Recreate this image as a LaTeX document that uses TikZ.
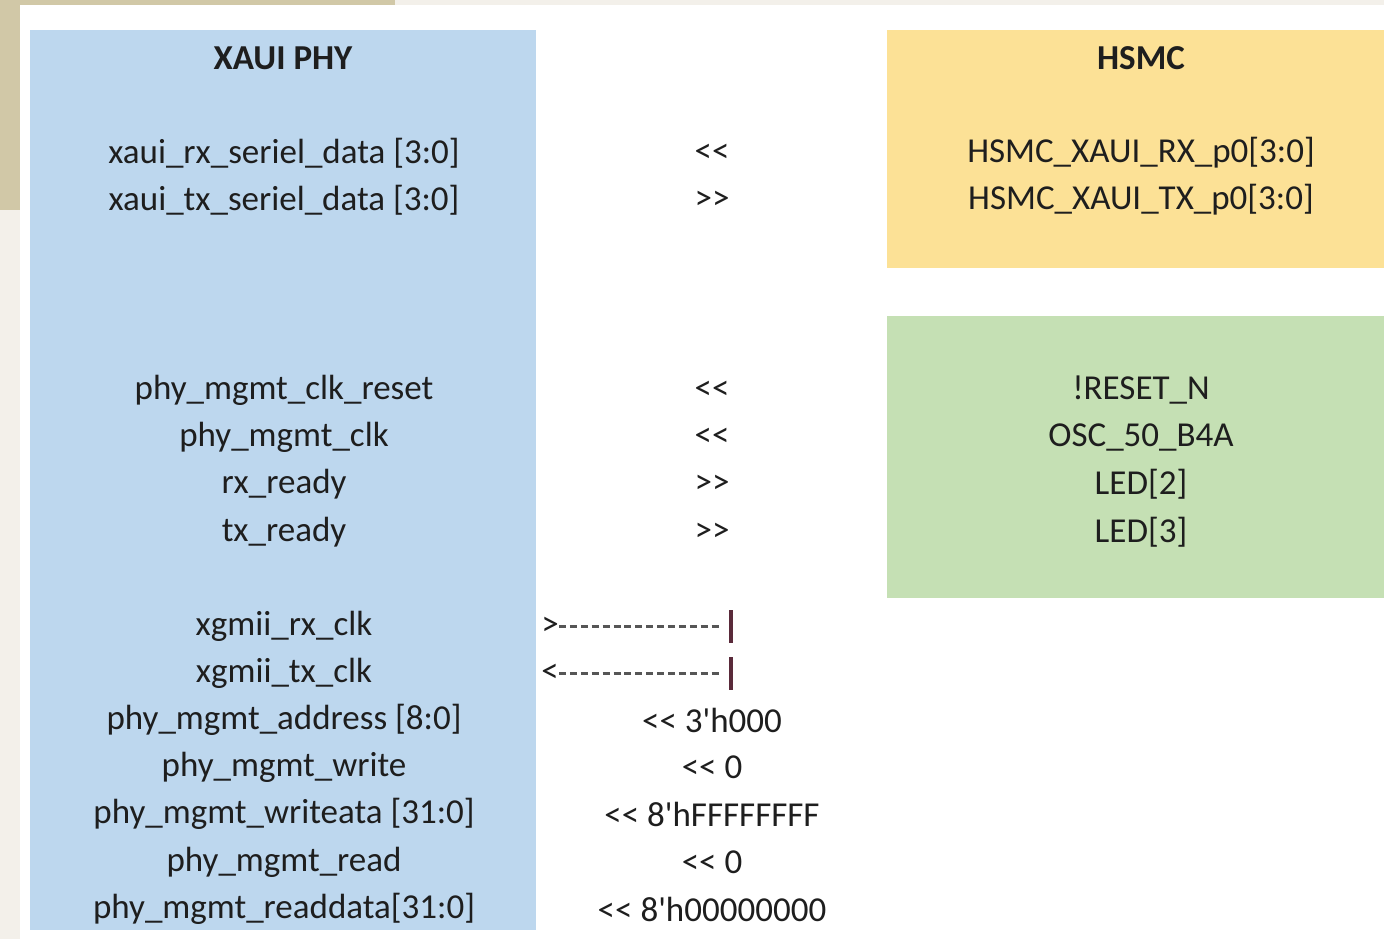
\documentclass[tikz,border=0pt]{standalone}
\usepackage{fontspec}
\setmainfont{Carlito}[Ligatures=TeXOff]
\definecolor{pagebg}{HTML}{F3F0EA}
\definecolor{beige}{HTML}{D1C8A7}
\definecolor{phyblue}{HTML}{BDD7EE}
\definecolor{hsmcyellow}{HTML}{FCE196}
\definecolor{ledgreen}{HTML}{C5E0B4}
\definecolor{txt}{HTML}{1E1E1E}
\definecolor{barred}{HTML}{5A2A3A}
\tikzset{
  sig/.style={text=txt, font=\fontsize{35}{40}\selectfont, inner sep=0pt, anchor=center},
  title/.style={sig, font=\fontsize{35}{40}\selectfont\bfseries},
  dir/.style={sig},
  dashwire/.style={draw=txt!75, line width=3pt, dash pattern=on 7pt off 3.9pt},
  bar/.style={draw=barred, line width=3.4pt}
}
\begin{document}
\begin{tikzpicture}[x=1pt,y=-1pt]
\useasboundingbox (0,0) rectangle (1384,939);
\fill[pagebg] (0,0) rectangle (1384,939);
\fill[beige] (0,0) rectangle (395,210);
\fill[white] (20,5) rectangle (1384,939);
% blocks
\fill[phyblue] (30,30) rectangle (536,930);
\fill[hsmcyellow] (887,30) rectangle (1384,268);
\fill[ledgreen] (887,316) rectangle (1384,598);
% XAUI PHY column
\node[title] (phy) at (283,58) {XAUI PHY};
\node[sig] (p1) at (284,153) {xaui\_rx\_seriel\_data [3:0]};
\node[sig] (p2) at (284,200) {xaui\_tx\_seriel\_data [3:0]};
\node[sig] (p3) at (284,390) {phy\_mgmt\_clk\_reset};
\node[sig] (p4) at (284,437) {phy\_mgmt\_clk};
\node[sig] (p5) at (284,484) {rx\_ready};
\node[sig] (p6) at (284,532) {tx\_ready};
\node[sig] (p7) at (284,626) {xgmii\_rx\_clk};
\node[sig] (p8) at (284,673) {xgmii\_tx\_clk};
\node[sig] (p9) at (284,720) {phy\_mgmt\_address [8:0]};
\node[sig] (p10) at (284,767) {phy\_mgmt\_write};
\node[sig] (p11) at (284,814) {phy\_mgmt\_writeata [31:0]};
\node[sig] (p12) at (284,862) {phy\_mgmt\_read};
\node[sig] (p13) at (284,909) {phy\_mgmt\_readdata[31:0]};
% direction column
\node[dir] (d1) at (712,153) {<<};
\node[dir] (d2) at (712,200) {>>};
\node[dir] (d3) at (712,390) {<<};
\node[dir] (d4) at (712,437) {<<};
\node[dir] (d5) at (712,484) {>>};
\node[dir] (d6) at (712,532) {>>};
\node[dir] (d9) at (712,720) {<< 3'h000};
\node[dir] (d10) at (712,767) {<< 0};
\node[dir] (d11) at (712,814) {<< 8'hFFFFFFFF};
\node[dir] (d12) at (712,862) {<< 0};
\node[dir] (d13) at (712,909) {<< 8'h00000000};
% loopback wires
\node[dir, anchor=east] (g1) at (559,626) {>};
\node[dir, anchor=east] (g2) at (559,673) {<};
\coordinate (e1) at (731,626);
\coordinate (e2) at (731,673);
\draw[dashwire] (g1.east) -- ([xshift=-9pt]e1);
\draw[dashwire] (g2.east) -- ([xshift=-9pt]e2);
\draw[bar] ([yshift=-16.5pt]e1) -- ([yshift=16.5pt]e1);
\draw[bar] ([yshift=-16.5pt]e2) -- ([yshift=16.5pt]e2);
% HSMC column
\node[title] (hsmc) at (1141,58) {HSMC};
\node[sig] (h1) at (1141,153) {HSMC\_XAUI\_RX\_p0[3:0]};
\node[sig] (h2) at (1141,200) {HSMC\_XAUI\_TX\_p0[3:0]};
\node[sig] (h3) at (1141,390) {!RESET\_N};
\node[sig] (h4) at (1141,437) {OSC\_50\_B4A};
\node[sig] (h5) at (1141,484) {LED[2]};
\node[sig] (h6) at (1141,532) {LED[3]};
\end{tikzpicture}
\end{document}
